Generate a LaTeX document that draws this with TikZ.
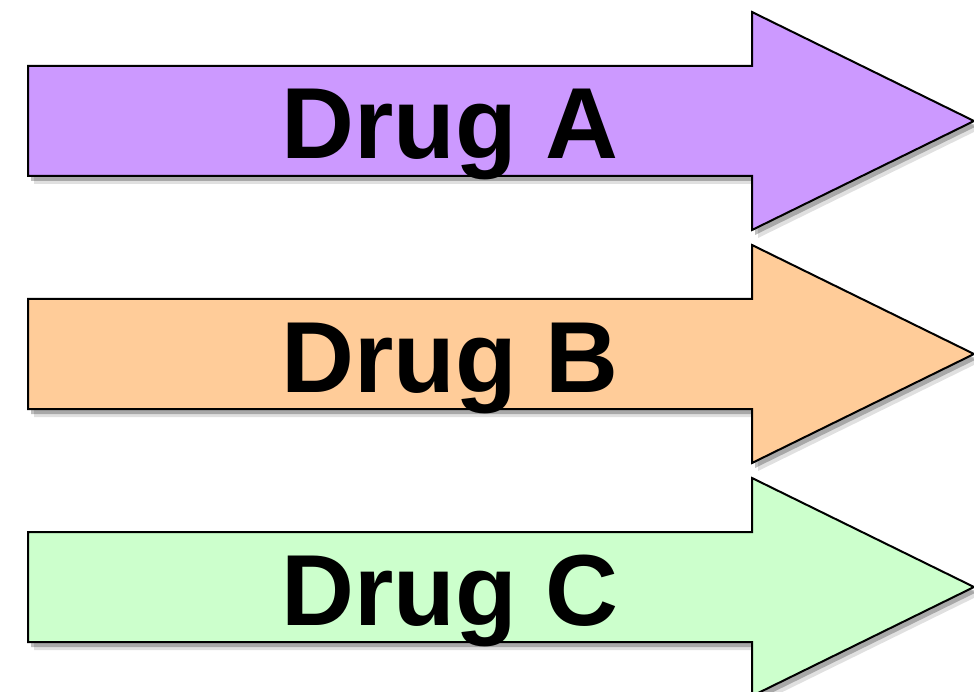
\documentclass[tikz,border=0pt]{standalone}
\usepackage{fontspec}
\setmainfont{Liberation Sans}
\usetikzlibrary{shadows}
\definecolor{drugpurple}{HTML}{CC99FF}
\definecolor{drugorange}{HTML}{FFCC99}
\definecolor{druggreen}{HTML}{CCFFCC}
\tikzset{
  drugarrow/.style={draw=black, line width=2pt, line join=miter,
    drop shadow={shadow xshift=6pt, shadow yshift=-8pt, fill=black, opacity=0.12},
    drop shadow={shadow xshift=3pt, shadow yshift=-5pt, fill=black, opacity=0.25}},
  druglabel/.style={anchor=base, inner sep=0pt,
    font=\fontsize{101}{101}\selectfont\bfseries}
}
\begin{document}
\begin{tikzpicture}[x=1pt, y=-1pt]
  \useasboundingbox (0,0) rectangle (974,692);
  \clip (0,0) rectangle (974,692);
  \foreach \top/\col/\name in {66/drugpurple/A, 299/drugorange/B, 532/druggreen/C}{
    \draw[drugarrow, fill=\col]
      (28,\top) -- (752,\top) -- (752,\top-54) -- (974,\top+55)
      -- (752,\top+164) -- (752,\top+110) -- (28,\top+110) -- cycle;
    \node[druglabel] (drug\name) at (450,\top+93) {Drug \name};
  }
\end{tikzpicture}
\end{document}
